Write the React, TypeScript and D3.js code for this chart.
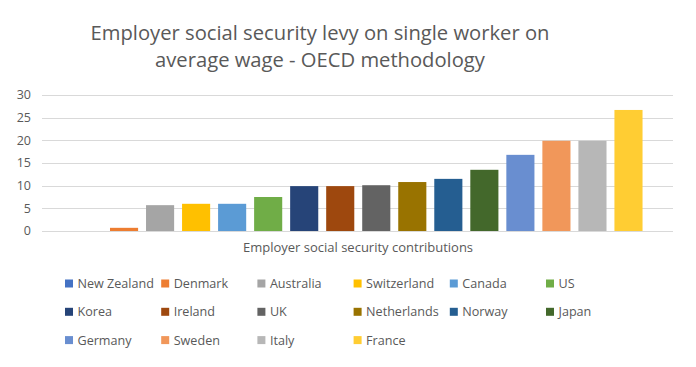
import * as d3 from 'd3';
import React, { useRef, useEffect } from 'react';

const countries = [
  'New Zealand', 'Denmark', 'Australia', 'Switzerland', 'Canada', 'US',
  'Korea', 'Ireland', 'UK', 'Netherlands', 'Norway', 'Japan',
  'Germany', 'Sweden', 'Italy', 'France',
];
const levy = [0, 0.7, 5.7, 6.0, 6.0, 7.5, 9.9, 9.9, 10.1, 10.8, 11.5, 13.5, 16.8, 19.9, 19.9, 26.7];
const colors = [
  '#4472C4', '#ED7D31', '#A5A5A5', '#FFC000', '#5B9BD5', '#70AD47',
  '#264478', '#9E480E', '#636363', '#997300', '#255E91', '#43682B',
  '#698ED0', '#F1975A', '#B7B7B7', '#FFCD33',
];
const yTicks = [0, 5, 10, 15, 20, 25, 30];
const titleLines = ['Employer social security levy on single worker on', 'average wage - OECD methodology'];
const categoryLabel = 'Employer social security contributions';

const W = 696;
const H = 367;
const FONT = "'Open Sans', sans-serif";
const TEXT = '#595959';

function Chart() {
  const ref = useRef<SVGSVGElement>(null);

  useEffect(() => {
    const svg = d3.select(ref.current);
    svg.selectAll('*').remove();

    // chart border
    svg.append('rect')
      .attr('x', 3.5).attr('y', 5.5)
      .attr('width', 686).attr('height', 356)
      .attr('fill', '#fff').attr('stroke', '#d0d0d0');

    // title
    svg.append('text')
      .attr('text-anchor', 'middle')
      .attr('font-family', FONT)
      .attr('font-size', 20.2)
      .attr('fill', TEXT)
      .selectAll('tspan')
      .data(titleLines)
      .enter()
      .append('tspan')
      .attr('x', 320)
      .attr('y', (d, i) => 40 + i * 27)
      .text(d => d);

    const y = d3.scaleLinear().domain([0, 30]).range([231, 95]);
    const x = d3.scaleBand()
      .domain(countries)
      .range([70, 646.5])
      .paddingInner(0.22)
      .paddingOuter(0.11);

    // gridlines
    svg.append('g')
      .selectAll('line')
      .data(yTicks)
      .enter()
      .append('line')
      .attr('x1', 42).attr('x2', 673)
      .attr('y1', d => Math.round(y(d)) + 0.5)
      .attr('y2', d => Math.round(y(d)) + 0.5)
      .attr('stroke', '#d9d9d9');

    // y labels
    svg.append('g')
      .selectAll('text')
      .data(yTicks)
      .enter()
      .append('text')
      .attr('x', 31)
      .attr('y', d => y(d))
      .attr('dy', '0.35em')
      .attr('text-anchor', 'end')
      .attr('font-family', FONT)
      .attr('font-size', 12.5)
      .attr('fill', TEXT)
      .text(d => d);

    // bars
    svg.append('g')
      .selectAll('rect')
      .data(levy)
      .enter()
      .append('rect')
      .attr('x', (d, i) => x(countries[i]))
      .attr('width', x.bandwidth())
      .attr('y', d => y(d))
      .attr('height', d => y(0) - y(d))
      .attr('fill', (d, i) => colors[i]);

    // category label
    svg.append('text')
      .attr('x', 358)
      .attr('y', 252)
      .attr('text-anchor', 'middle')
      .attr('font-family', FONT)
      .attr('font-size', 13)
      .attr('fill', TEXT)
      .text(categoryLabel);

    // legend
    const legend = svg.append('g')
      .selectAll('g')
      .data(countries)
      .enter()
      .append('g')
      .attr('transform', (d, i) =>
        `translate(${65 + (i % 6) * 96.2},${283.5 + Math.floor(i / 6) * 28.3})`);
    legend.append('rect')
      .attr('x', 0).attr('y', -4)
      .attr('width', 8).attr('height', 8)
      .attr('fill', (d, i) => colors[i]);
    legend.append('text')
      .attr('x', 12.5)
      .attr('dy', '0.35em')
      .attr('font-family', FONT)
      .attr('font-size', 12.6)
      .attr('fill', TEXT)
      .text(d => d);
  }, []);

  return <svg ref={ref} width={W} height={H} style={{ display: 'block' }} />;
}

export default function App() {
  return (
    <div style={{ margin: -8 }}>
      <Chart />
    </div>
  );
}
